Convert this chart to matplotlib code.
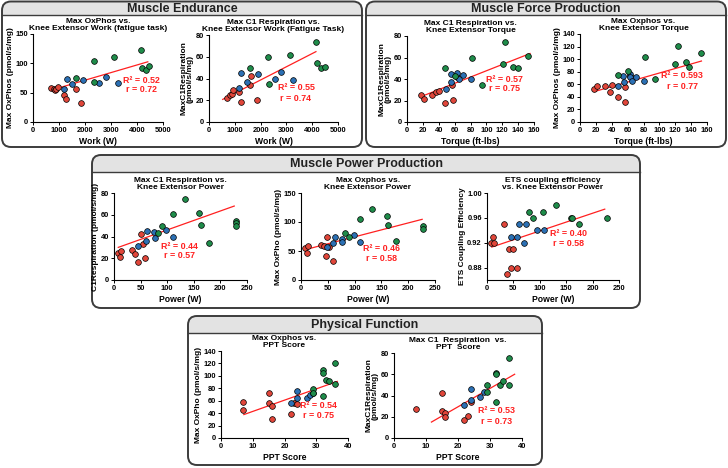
import numpy as np
import matplotlib.pyplot as plt
from matplotlib.patches import FancyBboxPatch, Rectangle
from matplotlib.ticker import FormatStrFormatter

plt.rcParams['font.family'] = ['Liberation Sans', 'DejaVu Sans']
plt.rcParams['font.weight'] = 'bold'
plt.rcParams['axes.labelweight'] = 'bold'

# ---- values: red / blue / green groups ----
# Max OxPhos vs work
ox_work_red_x = [700, 790, 830, 900, 970, 1210, 1285, 1640, 1860]
ox_work_red_y = [58, 57, 54, 56, 59, 46, 39, 56, 32]
ox_work_blue_x = [1209, 1298, 1489, 1921, 2557, 2812, 3257]
ox_work_blue_y = [57, 74, 65, 72, 66, 77, 66]
ox_work_green_x = [1641, 2328, 2354, 3130, 4160, 4180, 4330, 4480]
ox_work_green_y = [75, 104, 68, 110, 122, 92, 88, 95]

# Max C1 vs work
c1_work_red_x = [690, 816, 880, 946, 1180, 1243, 1593, 1632, 1852]
c1_work_red_y = [22, 25, 26, 29, 28, 18, 34, 42, 20]
c1_work_blue_x = [1153, 1256, 1464, 1917, 2539, 2785, 3251]
c1_work_blue_y = [31, 45, 37, 44, 40, 46, 39]
c1_work_green_x = [1593, 2306, 2332, 3135, 4145, 4171, 4326, 4482]
c1_work_green_y = [50, 60, 35, 62, 74, 54, 50, 51]

# Max C1 vs torque
c1_torq_red_x = [18, 22, 32, 37, 40, 48, 58, 57, 63]
c1_torq_red_y = [25, 21, 25.5, 28, 28.6, 17.5, 20.6, 34, 42]
c1_torq_blue_x = [49, 55, 55, 63, 66, 71, 80]
c1_torq_blue_y = [31, 37, 45, 46, 40, 44, 40]
c1_torq_green_x = [48, 60, 82, 95, 121, 124, 134, 140, 153]
c1_torq_green_y = [50, 43, 60, 34, 54, 74, 51, 50, 61.5]

# Max OxPhos vs torque
ox_torq_red_x = [18, 22, 31, 38, 40, 48, 57, 57, 63]
ox_torq_red_y = [53, 57, 57, 47, 59, 39, 32, 55, 73]
ox_torq_blue_x = [48, 54, 55, 63, 63, 66, 71, 80]
ox_torq_blue_y = [57, 73, 64, 77, 71, 66, 71, 66]
ox_torq_green_x = [48, 60, 82, 95, 120, 123, 133, 137, 153]
ox_torq_green_y = [75, 81, 104, 68, 92, 121, 95, 88, 110]

# Max C1 vs power
c1_pow_red_x = [8, 11, 13, 33, 40, 46, 51, 55, 58]
c1_pow_red_y = [25, 21, 27, 28, 24, 17, 42, 33, 20]
c1_pow_blue_x = [46, 60, 62, 75, 77, 98, 111]
c1_pow_blue_y = [31, 36, 45, 44, 39, 46, 39.5]
c1_pow_green_x = [83, 90, 111, 133, 160, 164, 179, 229, 229, 229]
c1_pow_green_y = [43, 50, 61, 74.5, 62, 51, 34, 54, 52, 50]

# Max OxPho vs power
ox_pow_red_x = [8, 11, 13, 37, 43, 46, 48, 53, 59]
ox_pow_red_y = [55, 47, 59, 61, 59, 41, 75, 57, 33]
ox_pow_blue_x = [49, 60, 63, 76, 77, 98, 111]
ox_pow_blue_y = [57, 64, 74, 71, 66, 77, 66]
ox_pow_green_x = [83, 90, 111, 133, 160, 162, 177, 227, 227]
ox_pow_green_y = [81, 75, 105, 123, 111, 95, 68, 93, 88]

# ETS coupling efficiency vs power
ets_pow_red_x = [8, 11, 13, 32, 38, 42, 45, 50, 56]
ets_pow_red_y = [0.92, 0.93, 0.92, 0.95, 0.87, 0.91, 0.88, 0.91, 0.88]
ets_pow_blue_x = [45, 57, 60, 71, 73, 95, 108]
ets_pow_blue_y = [0.93, 0.93, 0.95, 0.92, 0.95, 0.94, 0.94]
ets_pow_green_x = [80, 87, 107, 131, 159, 161, 175, 227]
ets_pow_green_y = [0.97, 0.96, 0.97, 0.98, 0.96, 0.96, 0.95, 0.96]

# Max OxPho vs PPT
ox_ppt_red_x = [7, 7, 15, 15, 16, 16, 22, 23, 24]
ox_ppt_red_y = [58, 45, 72, 57, 52, 31, 38, 57, 54]
ox_ppt_blue_x = [22, 24, 24, 27, 28, 29]
ox_ppt_blue_y = [56, 76, 64, 65, 70, 72]
ox_ppt_green_x = [29, 29, 32, 32, 32, 33, 34, 36, 36]
ox_ppt_green_y = [79, 73, 67, 109, 104, 94, 92, 121, 87]

# Max C1 vs PPT
c1_ppt_red_x = [7, 15, 15, 16, 16, 22, 23, 24]
c1_ppt_red_y = [27, 42, 25, 24, 20, 17, 21, 34]
c1_ppt_blue_x = [22, 24, 24, 27, 28]
c1_ppt_blue_y = [31, 46, 36, 39, 43]
c1_ppt_green_x = [29, 29, 32, 32, 32, 33, 34, 36, 36]
c1_ppt_green_y = [49.5, 43, 61, 60, 34, 50, 54, 75, 50]

# regression line end points and stats as printed
fit_x = [(674, 4415), (531, 4145), (18, 155), (18, 153), (8, 226),
         (10.6, 226), (9, 223), (7.2, 36.6), (11.7, 37.7)]
fit_y = [(54, 102.6), (20.8, 64.7), (23.7, 63.7), (48.4, 97), (30, 68),
         (53, 104.6), (0.913, 0.974), (37.7, 91), (15, 60)]
r2_text = ['0.52', '0.55', '0.57', '0.593', '0.44', '0.46', '0.40', '0.54', '0.53']
r_text = ['0.72', '0.74', '0.75', '0.77', '0.57', '0.58', '0.58', '0.75', '0.73']

RED, BLUE, GREEN = '#e0463a', '#2c70b4', '#1f8c4a'
LINE = '#ff2020'

W, H = 728, 468
fig = plt.figure(figsize=(7.28, 4.68), dpi=100)
bg = fig.add_axes([0, 0, 1, 1], zorder=0)
bg.set_xlim(0, W)
bg.set_ylim(H, 0)
bg.axis('off')


def group_box(x0, y0, x1, y1, yh, title):
    r = 9
    shade = FancyBboxPatch((x0, y0), x1 - x0, y1 - y0,
                           boxstyle=f"round,pad=0,rounding_size={r}",
                           fc='#e3e3e3', ec='none')
    bg.add_patch(shade)
    clip = Rectangle((x0, y0), x1 - x0, yh - y0)
    clip.set_transform(bg.transData)
    shade.set_clip_path(clip)
    bg.plot([x0, x1], [yh, yh], color='#3c3c3c', lw=1.0)
    frame = FancyBboxPatch((x0, y0), x1 - x0, y1 - y0,
                           boxstyle=f"round,pad=0,rounding_size={r}",
                           fc='none', ec='#3c3c3c', lw=1.4)
    bg.add_patch(frame)
    bg.text((x0 + x1) / 2, (y0 + yh) / 2 + 0.5, title, ha='center', va='center',
            fontsize=9, fontweight='bold', color='#222222')


group_box(2, 1.5, 362, 147, 15, 'Muscle Endurance')
group_box(366, 1.5, 726, 147, 15, 'Muscle Force Production')
group_box(92, 155, 640, 308, 172, 'Muscle Power Production')
group_box(188, 316, 542, 465, 333, 'Physical Function')


def px_axes(l, t, r, b):
    return fig.add_axes([l / W, 1 - b / H, (r - l) / W, (b - t) / H], zorder=2)


panels = [
    ((33, 34, 163, 122), 'Max OxPhos vs.\nKnee Extensor Work (fatigue task)', 'Work (W)',
     'Max OxPhos (pmol/s/mg)', (0, 5000), np.arange(0, 5001, 1000), (0, 150), [0, 50, 100, 150],
     (ox_work_red_x, ox_work_red_y, ox_work_blue_x, ox_work_blue_y, ox_work_green_x, ox_work_green_y),
     (0.836, 0.477, 0.364)),
    ((209, 35, 338, 122), 'Max C1 Respiration vs.\nKnee Extensor Work (Fatigue Task)', 'Work (W)',
     'MaxC1Respiration\n(pmol/s/mg)', (0, 5000), np.arange(0, 5001, 1000), (0, 80), np.arange(0, 81, 20),
     (c1_work_red_x, c1_work_red_y, c1_work_blue_x, c1_work_blue_y, c1_work_green_x, c1_work_green_y),
     (0.674, 0.394, 0.272)),
    ((407, 36, 534, 122), 'Max C1 Respiration vs.\nKnee Extensor Torque', 'Torque (ft-lbs)',
     'MaxC1Respiration\n(pmol/s/mg)', (0, 160), np.arange(0, 161, 20), (0, 80), np.arange(0, 81, 20),
     (c1_torq_red_x, c1_torq_red_y, c1_torq_blue_x, c1_torq_blue_y, c1_torq_green_x, c1_torq_green_y),
     (0.77, 0.5, 0.384)),
    ((580, 34, 707, 122), 'Max Oxphos vs.\nKnee Extensor Torque', 'Torque (ft-lbs)',
     'Max OxPhos (pmol/s/mg)', (0, 160), np.arange(0, 161, 20), (0, 140), np.arange(0, 141, 20),
     (ox_torq_red_x, ox_torq_red_y, ox_torq_blue_x, ox_torq_blue_y, ox_torq_green_x, ox_torq_green_y),
     (0.806, 0.523, 0.409)),
    ((114, 193, 247, 280), 'Max C1 Respiration vs.\nKnee Extensor Power', 'Power (W)',
     'C1Respiration (pmol/s/mg)', (0, 250), np.arange(0, 251, 50), (0, 80), np.arange(0, 81, 20),
     (c1_pow_red_x, c1_pow_red_y, c1_pow_blue_x, c1_pow_blue_y, c1_pow_green_x, c1_pow_green_y),
     (0.49, 0.39, 0.276)),
    ((301, 193, 435, 280), 'Max Oxphos vs.\nKnee Extensor Power', 'Power (W)',
     'Max OxPho (pmol/s/mg)', (0, 250), np.arange(0, 251, 50), (0, 150), [0, 50, 100, 150],
     (ox_pow_red_x, ox_pow_red_y, ox_pow_blue_x, ox_pow_blue_y, ox_pow_green_x, ox_pow_green_y),
     (0.602, 0.364, 0.25)),
    ((487, 193, 619, 280), 'ETS coupling efficiency\nvs. Knee Extensor Power', 'Power (W)',
     'ETS Coupling Efficiency', (0, 250), np.arange(0, 251, 50), (0.86, 1.0), [0.88, 0.92, 0.96, 1.00],
     (ets_pow_red_x, ets_pow_red_y, ets_pow_blue_x, ets_pow_blue_y, ets_pow_green_x, ets_pow_green_y),
     (0.616, 0.529, 0.414)),
    ((221, 351, 348, 438), 'Max Oxphos vs.\nPPT Score', 'PPT Score',
     'Max OxPho (pmol/s/mg)', (0, 40), np.arange(0, 41, 10), (0, 140), np.arange(0, 141, 20),
     (ox_ppt_red_x, ox_ppt_red_y, ox_ppt_blue_x, ox_ppt_blue_y, ox_ppt_green_x, ox_ppt_green_y),
     (0.766, 0.377, 0.262)),
    ((394, 353, 522, 438), 'Max C1  Respiration  vs.\nPPT  Score', 'PPT Score',
     'MaxC1Respiration\n(pmol/s/mg)', (0, 40), np.arange(0, 41, 10), (0, 80), np.arange(0, 81, 20),
     (c1_ppt_red_x, c1_ppt_red_y, c1_ppt_blue_x, c1_ppt_blue_y, c1_ppt_green_x, c1_ppt_green_y),
     (0.8, 0.322, 0.194)),
]

for i, (box, title, xl, yl, xlim, xt, ylim, yt, d, tpos) in enumerate(panels):
    ax = px_axes(*box)
    ax.set_xlim(*xlim)
    ax.set_ylim(*ylim)
    ax.set_xticks(xt)
    ax.set_yticks(yt)
    if i == 6:
        ax.yaxis.set_major_formatter(FormatStrFormatter('%.2f'))
    for s in ['top', 'right']:
        ax.spines[s].set_visible(False)
    for s in ['left', 'bottom']:
        ax.spines[s].set_linewidth(0.8)
    ax.tick_params(direction='out', length=2.5, width=0.7, labelsize=5.4, pad=1.2)
    for lab in ax.get_xticklabels() + ax.get_yticklabels():
        lab.set_fontweight('bold')
    ax.set_title(title, fontsize=6, fontweight='bold', pad=3, linespacing=0.95)
    ax.set_xlabel(xl, fontsize=6.2, fontweight='bold', labelpad=2)
    ax.set_ylabel(yl, fontsize=6, fontweight='bold', labelpad=1, linespacing=1.0)

    ax.plot(fit_x[i], fit_y[i], color=LINE, lw=0.9, zorder=2)
    for (gx, gy), col in zip([(d[0], d[1]), (d[2], d[3]), (d[4], d[5])], [RED, BLUE, GREEN]):
        ax.scatter(gx, gy, s=17, c=col, edgecolors='black', linewidths=0.5, zorder=3, clip_on=False)

    ax.text(tpos[0], tpos[1], f'R² = {r2_text[i]}', transform=ax.transAxes, ha='center',
            va='center', fontsize=6.4, fontweight='bold', color=LINE)
    ax.text(tpos[0], tpos[2], f'r = {r_text[i]}', transform=ax.transAxes, ha='center',
            va='center', fontsize=6.4, fontweight='bold', color=LINE)

fig.savefig('out.png', dpi=100)
